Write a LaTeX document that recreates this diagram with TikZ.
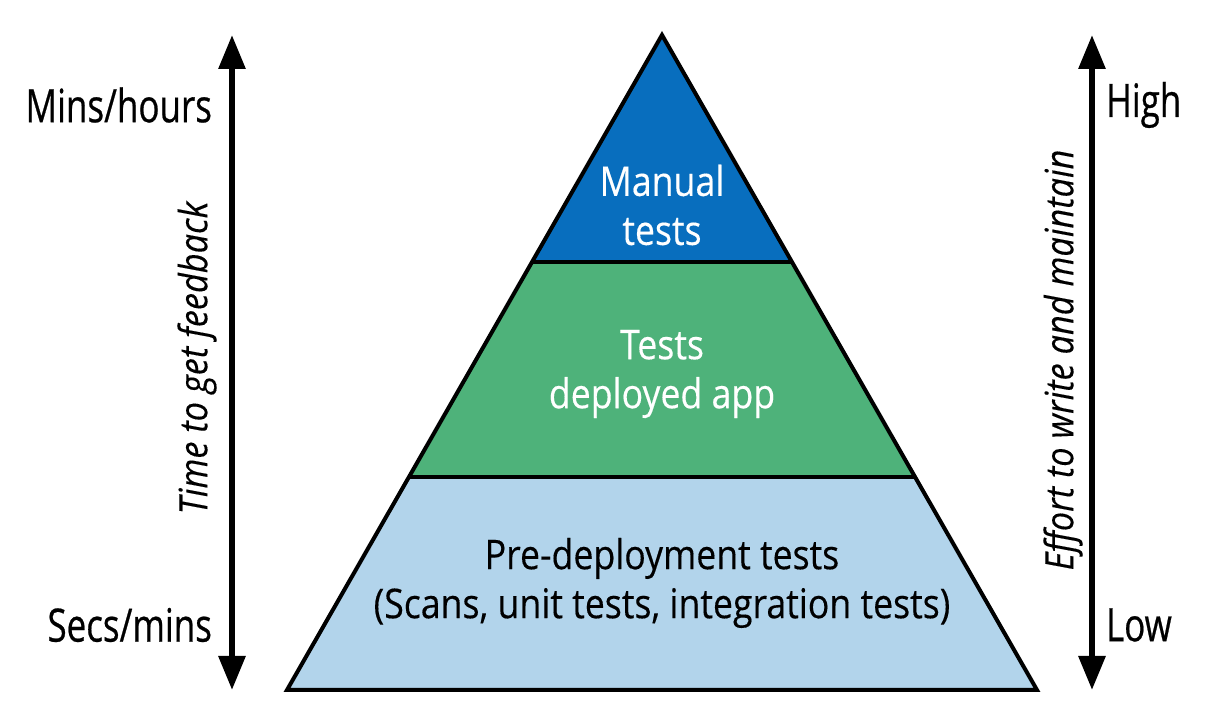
\documentclass[tikz,border=0pt]{standalone}
\usepackage{fontspec}
\setmainfont[FakeStretch=0.87,FakeBold=0.3]{Open Sans}
\newfontfamily\sidefont[FakeStretch=0.76,FakeBold=0.5]{Open Sans}
\newfontfamily\axisfont[FakeStretch=0.88,FakeBold=0.2]{Open Sans}
\usetikzlibrary{arrows.meta}
\definecolor{topblue}{RGB}{8,110,190}
\definecolor{midgreen}{RGB}{78,178,122}
\definecolor{lowblue}{RGB}{178,212,235}
\tikzset{
  axis/.style={line width=3pt,{Triangle[width=13pt,length=17pt]}-{Triangle[width=13pt,length=17pt]}},
  tier/.style={draw=black,line width=1.6pt,line join=miter},
  tiertext/.style={align=center,font=\fontsize{20.5}{24.5}\selectfont},
  sidelabel/.style={font=\sidefont\fontsize{23}{27}\selectfont},
  axislabel/.style={font=\axisfont\fontsize{19.5}{23}\selectfont\itshape,rotate=90}
}
\begin{document}
\begin{tikzpicture}[x=0.5pt,y=-0.5pt]
\useasboundingbox (0,0) rectangle (1206,716);
% pyramid corners
\coordinate (apex) at (662,35);
\coordinate (l1) at (533,262);
\coordinate (r1) at (791,262);
\coordinate (l2) at (410,477);
\coordinate (r2) at (914,477);
\coordinate (bl) at (287,690);
\coordinate (br) at (1037,690);
\fill[lowblue] (l2) -- (r2) -- (br) -- (bl) -- cycle;
\fill[midgreen] (l1) -- (r1) -- (r2) -- (l2) -- cycle;
\fill[topblue] (apex) -- (r1) -- (l1) -- cycle;
\draw[tier] (l1) -- (r1);
\draw[tier] (l2) -- (r2);
\draw[tier,line width=2pt] (apex) -- (br) -- (bl) -- cycle;
\node[tiertext,text=white] (manual) at (662,205) {Manual\\tests};
\node[tiertext,text=white] (deployed) at (662,374) {Tests\\deployed app};
\node[tiertext,text=black] (pre) at (662,583) {Pre-deployment tests\\(Scans, unit tests, integration tests)};
% left axis
\coordinate (lt) at (232,35);
\coordinate (lb) at (232,690);
\draw[axis] (lb) -- (lt);
\node[sidelabel,anchor=east] (mins) at (219,105) {Mins/hours};
\node[sidelabel,anchor=east] (secs) at (219,625) {Secs/mins};
\node[axislabel] (time) at (197,358) {Time to get feedback};
% right axis
\coordinate (rt) at (1092,35);
\coordinate (rb) at (1092,690);
\draw[axis] (rb) -- (rt);
\node[sidelabel,anchor=west] (high) at (1099,105) {High};
\node[sidelabel,anchor=west] (low) at (1099,625) {Low};
\node[axislabel] (effort) at (1063,360) {Effort to write and maintain};
\end{tikzpicture}
\end{document}
